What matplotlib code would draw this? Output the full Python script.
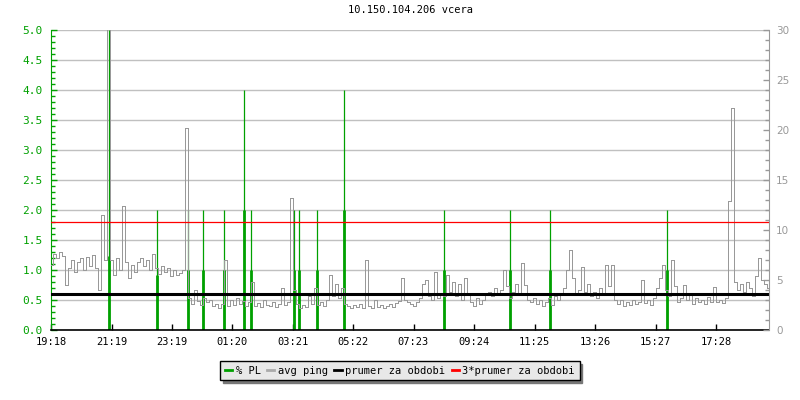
import numpy as np
import matplotlib
matplotlib.use('Agg')
import matplotlib.pyplot as plt
from matplotlib.lines import Line2D
from matplotlib.ticker import MultipleLocator

# Popisky casove osy (start 19:18)
tick_labels = ['19:18', '21:19', '23:19', '01:20', '03:21', '05:22',
               '07:23', '09:24', '11:25', '13:26', '15:27', '17:28']

# avg ping [ms], krok 6 minut od 19:18
ping = [6.5, 7.6, 7.2, 7.8, 7.4, 4.5, 6.2, 7.0, 5.8, 6.8,
        7.2, 6.0, 7.3, 6.4, 7.5, 6.2, 4.0, 11.5, 7.0, 31.0,
        7.0, 5.5, 7.2, 6.0, 12.4, 6.8, 5.2, 6.5, 5.8, 6.8,
        7.2, 6.4, 7.0, 6.0, 7.6, 6.2, 5.6, 6.4, 5.8, 6.2,
        5.4, 6.0, 5.5, 5.7, 6.0, 20.2, 3.2, 2.6, 4.0, 2.9,
        2.5, 3.2, 2.8, 3.0, 2.4, 2.6, 2.2, 2.6, 7.0, 2.4,
        3.0, 2.5, 3.2, 2.6, 2.9, 2.4, 2.8, 4.8, 2.4, 2.7,
        2.3, 3.0, 2.5, 2.4, 2.8, 2.3, 2.6, 4.2, 2.5, 2.8,
        13.2, 4.0, 2.6, 2.2, 2.5, 2.3, 3.4, 2.6, 4.2, 2.5,
        2.8, 2.4, 3.0, 5.5, 3.4, 4.6, 3.2, 4.2, 2.6, 2.4,
        2.2, 2.5, 2.3, 2.6, 2.2, 7.0, 2.4, 2.2, 3.0, 2.3,
        2.5, 2.2, 2.4, 2.6, 2.3, 2.7, 2.9, 5.2, 3.0, 2.8,
        2.6, 2.4, 2.8, 3.2, 4.6, 5.0, 3.4, 3.0, 5.8, 3.2,
        3.6, 3.4, 5.5, 3.8, 4.8, 3.4, 4.6, 3.0, 5.2, 3.6,
        2.8, 2.4, 3.2, 2.6, 3.0, 3.6, 3.8, 3.4, 4.2, 3.6,
        4.0, 6.0, 4.4, 3.2, 3.8, 4.6, 3.5, 6.7, 4.5, 3.0,
        2.8, 3.2, 2.6, 3.0, 2.4, 2.8, 3.2, 2.5, 3.4, 3.0,
        3.6, 4.2, 6.0, 8.0, 5.2, 3.6, 4.0, 6.3, 3.8, 4.6,
        3.4, 3.8, 3.2, 4.2, 3.6, 6.5, 4.4, 6.5, 3.0, 2.6,
        3.0, 2.4, 2.8, 2.5, 3.0, 2.6, 2.8, 5.0, 2.7, 3.0,
        2.5, 3.2, 4.2, 5.2, 6.5, 4.0, 3.4, 7.0, 4.4, 2.8,
        3.2, 4.5, 3.0, 3.6, 2.6, 3.2, 2.8, 3.0, 2.6, 3.3,
        2.8, 4.3, 2.8, 3.0, 2.7, 3.2, 12.9, 22.2, 4.8, 4.0,
        4.6, 3.8, 4.8, 4.2, 3.4, 5.4, 7.2, 5.0, 4.6, 4.2]
ping_step = 6

# ztrata paketu [%] - cas (min od 19:18), spicka a zaklad
pl_times = [116, 212, 274, 303, 345, 386, 400, 485, 495, 531,
            586, 786, 918, 998, 1231]
pl_peak = [5.0, 2.0, 2.0, 2.0, 2.0, 4.0, 2.0, 2.0, 2.0, 2.0,
           4.0, 2.0, 2.0, 2.0, 2.0]
pl_base = [1.23, 0.92, 1.0, 1.0, 1.0, 2.0, 1.0, 1.0, 1.0, 1.0,
           2.0, 1.0, 1.0, 1.0, 1.0]

prumer = 3.59

green = '#00a000'
gray = '#999999'
mono = 'DejaVu Sans Mono'


def minutes_from_start(label, start='19:18'):
    h, m = map(int, label.split(':'))
    h0, m0 = map(int, start.split(':'))
    return ((h * 60 + m) - (h0 * 60 + m0)) % 1440


tick_pos = [minutes_from_start(t) for t in tick_labels]
ping_t = np.arange(len(ping)) * ping_step

fig = plt.figure(figsize=(8, 4), dpi=100)
ax = fig.add_axes([51 / 800, 70 / 400, 718 / 800, 300 / 400])
ax2 = ax.twinx()

# % PL na leve ose
ax.vlines(pl_times, 0, pl_peak, color=green, linewidth=0.9)
ax.vlines(pl_times, 0, pl_base, color=green, linewidth=2.0)

ax.set_xlim(0, 1436)
ax.set_ylim(0, 5)
ax.yaxis.set_major_locator(MultipleLocator(0.5))
ax.yaxis.set_minor_locator(MultipleLocator(0.1))
ax.yaxis.set_major_formatter(plt.FormatStrFormatter('%.1f'))
ax.grid(axis='y', color='#c0c0c0', linewidth=1.0)
ax.set_axisbelow(True)
ax.set_xticks(tick_pos)
ax.set_xticklabels(tick_labels, fontfamily=mono, fontsize=7.5)
ax.tick_params(axis='x', direction='in', length=4.5, width=1, pad=5, color='black')
ax.tick_params(axis='y', which='major', direction='in', length=4, width=1,
               color=green, labelcolor=green, pad=6)
ax.tick_params(axis='y', which='minor', direction='in', length=3, width=1, color=green)
for lab in ax.get_yticklabels():
    lab.set_fontfamily(mono)
    lab.set_fontsize(8)
ax.spines['left'].set_color(green)
ax.spines['bottom'].set_color('black')
ax.spines['bottom'].set_linewidth(1.2)
ax.spines['top'].set_visible(False)
ax.spines['right'].set_visible(False)

# avg ping na prave ose
ax2.plot(ping_t, ping, color=gray, linewidth=0.72, drawstyle='steps-mid',
         antialiased=False)
ax2.axhline(prumer, color='black', linewidth=2.2)
ax2.axhline(3 * prumer, color='red', linewidth=0.9)
ax2.set_ylim(0, 30)
ax2.yaxis.set_major_locator(MultipleLocator(5))
ax2.yaxis.set_minor_locator(MultipleLocator(1))
ax2.tick_params(axis='y', which='major', direction='in', length=4, width=1,
                color=gray, labelcolor=gray, labelsize=7.5, pad=5)
ax2.tick_params(axis='y', which='minor', direction='in', length=3, width=1, color=gray)
for s in ['left', 'top', 'bottom']:
    ax2.spines[s].set_visible(False)
ax2.spines['right'].set_color(gray)

ax.set_title('10.150.104.206 vcera', fontfamily=mono, fontsize=7.5, pad=12)

handles = [Line2D([], [], color=green, linewidth=2),
           Line2D([], [], color='#aaaaaa', linewidth=2),
           Line2D([], [], color='black', linewidth=2),
           Line2D([], [], color='red', linewidth=2)]
names = ['% PL', 'avg ping', 'prumer za obdobi', '3*prumer za obdobi']
leg = fig.legend(handles, names, loc='center', bbox_to_anchor=(0.5, 0.073),
                 ncol=4, prop={'family': mono, 'size': 7.5},
                 frameon=True, fancybox=False, edgecolor='black',
                 facecolor='#e8e8e8', framealpha=1,
                 shadow={'color': '#777777', 'alpha': 1},
                 handlelength=0.7, handletextpad=0.35, columnspacing=0.6,
                 borderpad=0.45, borderaxespad=0)
leg.get_frame().set_linewidth(1.0)

fig.savefig('out.png', dpi=100)
